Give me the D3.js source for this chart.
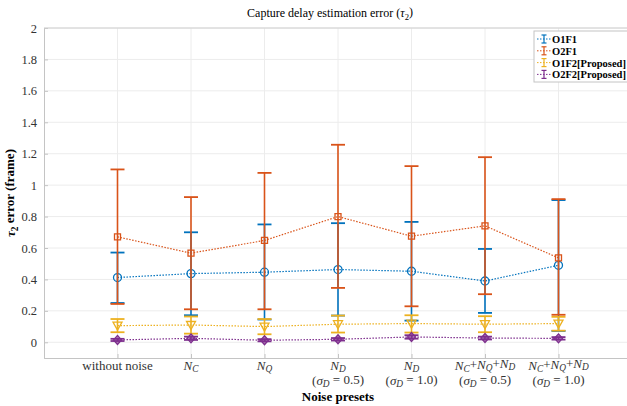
<!DOCTYPE html>
<html>
<head>
<meta charset="utf-8">
<script src="https://cdn.jsdelivr.net/npm/d3@7"></script>
<style>
  body { margin: 0; background: #fff; }
  svg { display: block; }
</style>
</head>
<body>
<div id="chart"></div>
<script>
// tick labels, one array per line; "_X" marks a subscript, N and σ are italic
const categories = [
  ['without noise'],
  ['N_C'],
  ['N_Q'],
  ['N_D', '(σ_D = 0.5)'],
  ['N_D', '(σ_D = 1.0)'],
  ['N_C+N_Q+N_D', '(σ_D = 0.5)'],
  ['N_C+N_Q+N_D', '(σ_D = 1.0)'],
];
const seriesNames = ['O1F1', 'O2F1', 'O1F2[Proposed]', 'O2F2[Proposed]'];
const yTicks = [0, 0.2, 0.4, 0.6, 0.8, 1, 1.2, 1.4, 1.6, 1.8, 2];

const o1f1Mean = [0.412, 0.437, 0.446, 0.463, 0.452, 0.390, 0.490];
const o1f1Upper = [0.571, 0.700, 0.750, 0.758, 0.766, 0.594, 0.905];
const o1f1Lower = [0.250, 0.172, 0.145, 0.170, 0.138, 0.187, 0.072];

const o2f1Mean = [0.671, 0.567, 0.648, 0.800, 0.675, 0.741, 0.537];
const o2f1Upper = [1.100, 0.924, 1.078, 1.257, 1.121, 1.178, 0.911];
const o2f1Lower = [0.244, 0.210, 0.210, 0.346, 0.229, 0.306, 0.175];

const o1f2Mean = [0.106, 0.110, 0.100, 0.115, 0.119, 0.115, 0.119];
const o1f2Upper = [0.148, 0.164, 0.148, 0.170, 0.172, 0.166, 0.162];
const o1f2Lower = [0.064, 0.055, 0.051, 0.062, 0.062, 0.064, 0.074];

const o2f2Mean = [0.015, 0.025, 0.013, 0.019, 0.034, 0.027, 0.025];
const o2f2Upper = [0.022, 0.036, 0.020, 0.027, 0.045, 0.036, 0.033];
const o2f2Lower = [0.008, 0.015, 0.006, 0.011, 0.023, 0.018, 0.017];

const series = [
  { name: seriesNames[0], mean: o1f1Mean, upper: o1f1Upper, lower: o1f1Lower, color: '#0072BD', marker: 'circle' },
  { name: seriesNames[1], mean: o2f1Mean, upper: o2f1Upper, lower: o2f1Lower, color: '#D95319', marker: 'square' },
  { name: seriesNames[2], mean: o1f2Mean, upper: o1f2Upper, lower: o1f2Lower, color: '#EDB120', marker: 'triangle' },
  { name: seriesNames[3], mean: o2f2Mean, upper: o2f2Upper, lower: o2f2Lower, color: '#7E2F8E', marker: 'diamond' },
];

const width = 627;
const height = 406;
const margin = { top: 28, right: -5, bottom: 48, left: 44 };
const serif = '"Liberation Serif", "Times New Roman", Times, serif';

const svg = d3.select('#chart').append('svg')
  .attr('width', width)
  .attr('height', height)
  .attr('font-family', serif);

const xScale = d3.scaleLinear().domain([0, 8]).range([margin.left, width - margin.right]);
const yScale = d3.scaleLinear().domain([-0.1, 2]).range([height - margin.bottom, margin.top]);

// writes a label with italic variables and subscripts into a text element
function mathText(el, str) {
  let i = 0;
  let lowered = false;
  const span = () => {
    const t = el.append('tspan');
    if (lowered) { t.attr('dy', '-0.22em'); lowered = false; }
    return t;
  };
  while (i < str.length) {
    const ch = str[i];
    if (ch === '_') {
      const t = el.append('tspan').attr('font-style', 'italic').attr('font-size', '0.72em');
      if (!lowered) t.attr('dy', '0.22em');
      t.text(str[i + 1]);
      lowered = true;
      i += 2;
    } else if (ch === 'N' || ch === 'σ') {
      span().attr('font-style', 'italic').text(ch);
      i += 1;
    } else {
      let j = i;
      while (j < str.length && !['_', 'N', 'σ'].includes(str[j])) j++;
      span().text(str.slice(i, j));
      i = j;
    }
  }
}

// gridlines
const grid = svg.append('g').attr('class', 'gridlines');
grid.selectAll('line.h').data(yTicks).join('line')
  .attr('x1', margin.left).attr('x2', width)
  .attr('y1', d => yScale(d)).attr('y2', d => yScale(d))
  .attr('stroke', '#ececec');
grid.selectAll('line.v').data(categories).join('line')
  .attr('x1', (d, i) => xScale(i + 1)).attr('x2', (d, i) => xScale(i + 1))
  .attr('y1', yScale(-0.1)).attr('y2', yScale(2))
  .attr('stroke', '#ececec');

// axes
const yAxis = d3.axisLeft(yScale).tickValues(yTicks).tickSize(-4).tickPadding(7)
  .tickFormat(d => String(d));
svg.append('g').attr('transform', `translate(${margin.left},0)`).call(yAxis)
  .attr('font-family', serif).attr('font-size', 12.5)
  .call(g => g.selectAll('text').attr('fill', '#333'))
  .call(g => g.selectAll('line, path').attr('stroke', '#c4c4c4'));

svg.append('line')
  .attr('x1', margin.left).attr('x2', width)
  .attr('y1', yScale(2)).attr('y2', yScale(2))
  .attr('stroke', '#d0d0d0');

const xAxis = d3.axisBottom(xScale).tickValues(d3.range(1, 8)).tickSize(-4).tickFormat('');
svg.append('g').attr('transform', `translate(0,${yScale(-0.1)})`).call(xAxis)
  .call(g => g.selectAll('line, path').attr('stroke', '#c4c4c4'));

const xLabels = svg.append('g');
categories.forEach((lines, i) => {
  lines.forEach((line, k) => {
    const t = xLabels.append('text')
      .attr('x', xScale(i + 1)).attr('y', yScale(-0.1) + 12 + k * 15)
      .attr('text-anchor', 'middle').attr('font-size', 13).attr('fill', '#333');
    mathText(t, line);
  });
});

// series: error bars, dotted lines, markers
const capW = 7;
const line = d3.line().x((d, i) => xScale(i + 1)).y(d => yScale(d));

series.forEach(s => {
  const g = svg.append('g');
  const idx = d3.range(s.mean.length);
  g.selectAll('line.bar').data(idx).join('line')
    .attr('x1', i => xScale(i + 1)).attr('x2', i => xScale(i + 1))
    .attr('y1', i => yScale(s.lower[i])).attr('y2', i => yScale(s.upper[i]))
    .attr('stroke', s.color).attr('stroke-width', 1.6);
  ['upper', 'lower'].forEach(key => {
    g.selectAll('line.' + key).data(idx).join('line')
      .attr('x1', i => xScale(i + 1) - capW).attr('x2', i => xScale(i + 1) + capW)
      .attr('y1', i => yScale(s[key][i])).attr('y2', i => yScale(s[key][i]))
      .attr('stroke', s.color).attr('stroke-width', 1.8);
  });
  g.append('path').datum(s.mean)
    .attr('d', line).attr('fill', 'none')
    .attr('stroke', s.color).attr('stroke-width', 1.2).attr('stroke-dasharray', '1.5,1.5');
  drawMarkers(g, s, idx);
});

function markerPath(type) {
  if (type === 'circle') return d3.symbol(d3.symbolCircle, 50)();
  if (type === 'square') return d3.symbol(d3.symbolSquare, 36)();
  if (type === 'triangle') return 'M-4.5,-3.5L4.5,-3.5L0,4.5Z';
  return 'M0,-4.5L4,0L0,4.5L-4,0Z';
}

function drawMarkers(g, s, idx) {
  g.selectAll('path.m').data(idx).join('path')
    .attr('transform', i => `translate(${xScale(i + 1)},${yScale(s.mean[i])})`)
    .attr('d', () => markerPath(s.marker))
    .attr('fill', s.marker === 'diamond' ? s.color : 'none')
    .attr('fill-opacity', 0.6)
    .attr('stroke', s.color).attr('stroke-width', 1.3);
}

// title and axis labels
const title = svg.append('text')
  .attr('x', 330).attr('y', 17).attr('text-anchor', 'middle').attr('font-size', 12);
title.append('tspan').text('Capture delay estimation error (');
title.append('tspan').attr('font-style', 'italic').text('τ');
title.append('tspan').attr('font-size', '0.72em').attr('dy', '0.3em').text('2');
title.append('tspan').attr('dy', '-0.3em').text(')');

const yLabel = svg.append('text')
  .attr('transform', `translate(15,${yScale(0.95)}) rotate(-90)`)
  .attr('text-anchor', 'middle').attr('font-size', 13).attr('font-weight', 'bold');
yLabel.append('tspan').attr('font-style', 'italic').text('τ');
yLabel.append('tspan').attr('font-size', '0.72em').attr('dy', '0.3em').text('2');
yLabel.append('tspan').attr('dy', '-0.3em').text(' error (frame)');

svg.append('text')
  .attr('x', 338).attr('y', 401).attr('text-anchor', 'middle')
  .attr('font-size', 13).attr('font-weight', 'bold').text('Noise presets');

// legend
const legend = svg.append('g').attr('transform', 'translate(534,31)');
legend.append('rect').attr('width', 100).attr('height', 51)
  .attr('fill', '#fff').attr('stroke', '#c4c4c4');
series.forEach((s, i) => {
  const row = legend.append('g').attr('transform', `translate(0,${8 + i * 11.8})`);
  row.append('line').attr('x1', 3).attr('x2', 17).attr('stroke', s.color)
    .attr('stroke-width', 1).attr('stroke-dasharray', '1.5,1.5');
  row.append('line').attr('x1', 10).attr('x2', 10).attr('y1', -4).attr('y2', 4)
    .attr('stroke', s.color).attr('stroke-width', 1.2);
  row.append('line').attr('x1', 7.5).attr('x2', 12.5).attr('y1', -4).attr('y2', -4)
    .attr('stroke', s.color).attr('stroke-width', 1.2);
  row.append('line').attr('x1', 7.5).attr('x2', 12.5).attr('y1', 4).attr('y2', 4)
    .attr('stroke', s.color).attr('stroke-width', 1.2);
  row.append('text').attr('x', 18).attr('y', 4).attr('font-size', 10.5)
    .attr('font-weight', 'bold').text(s.name);
});
</script>
</body>
</html>
